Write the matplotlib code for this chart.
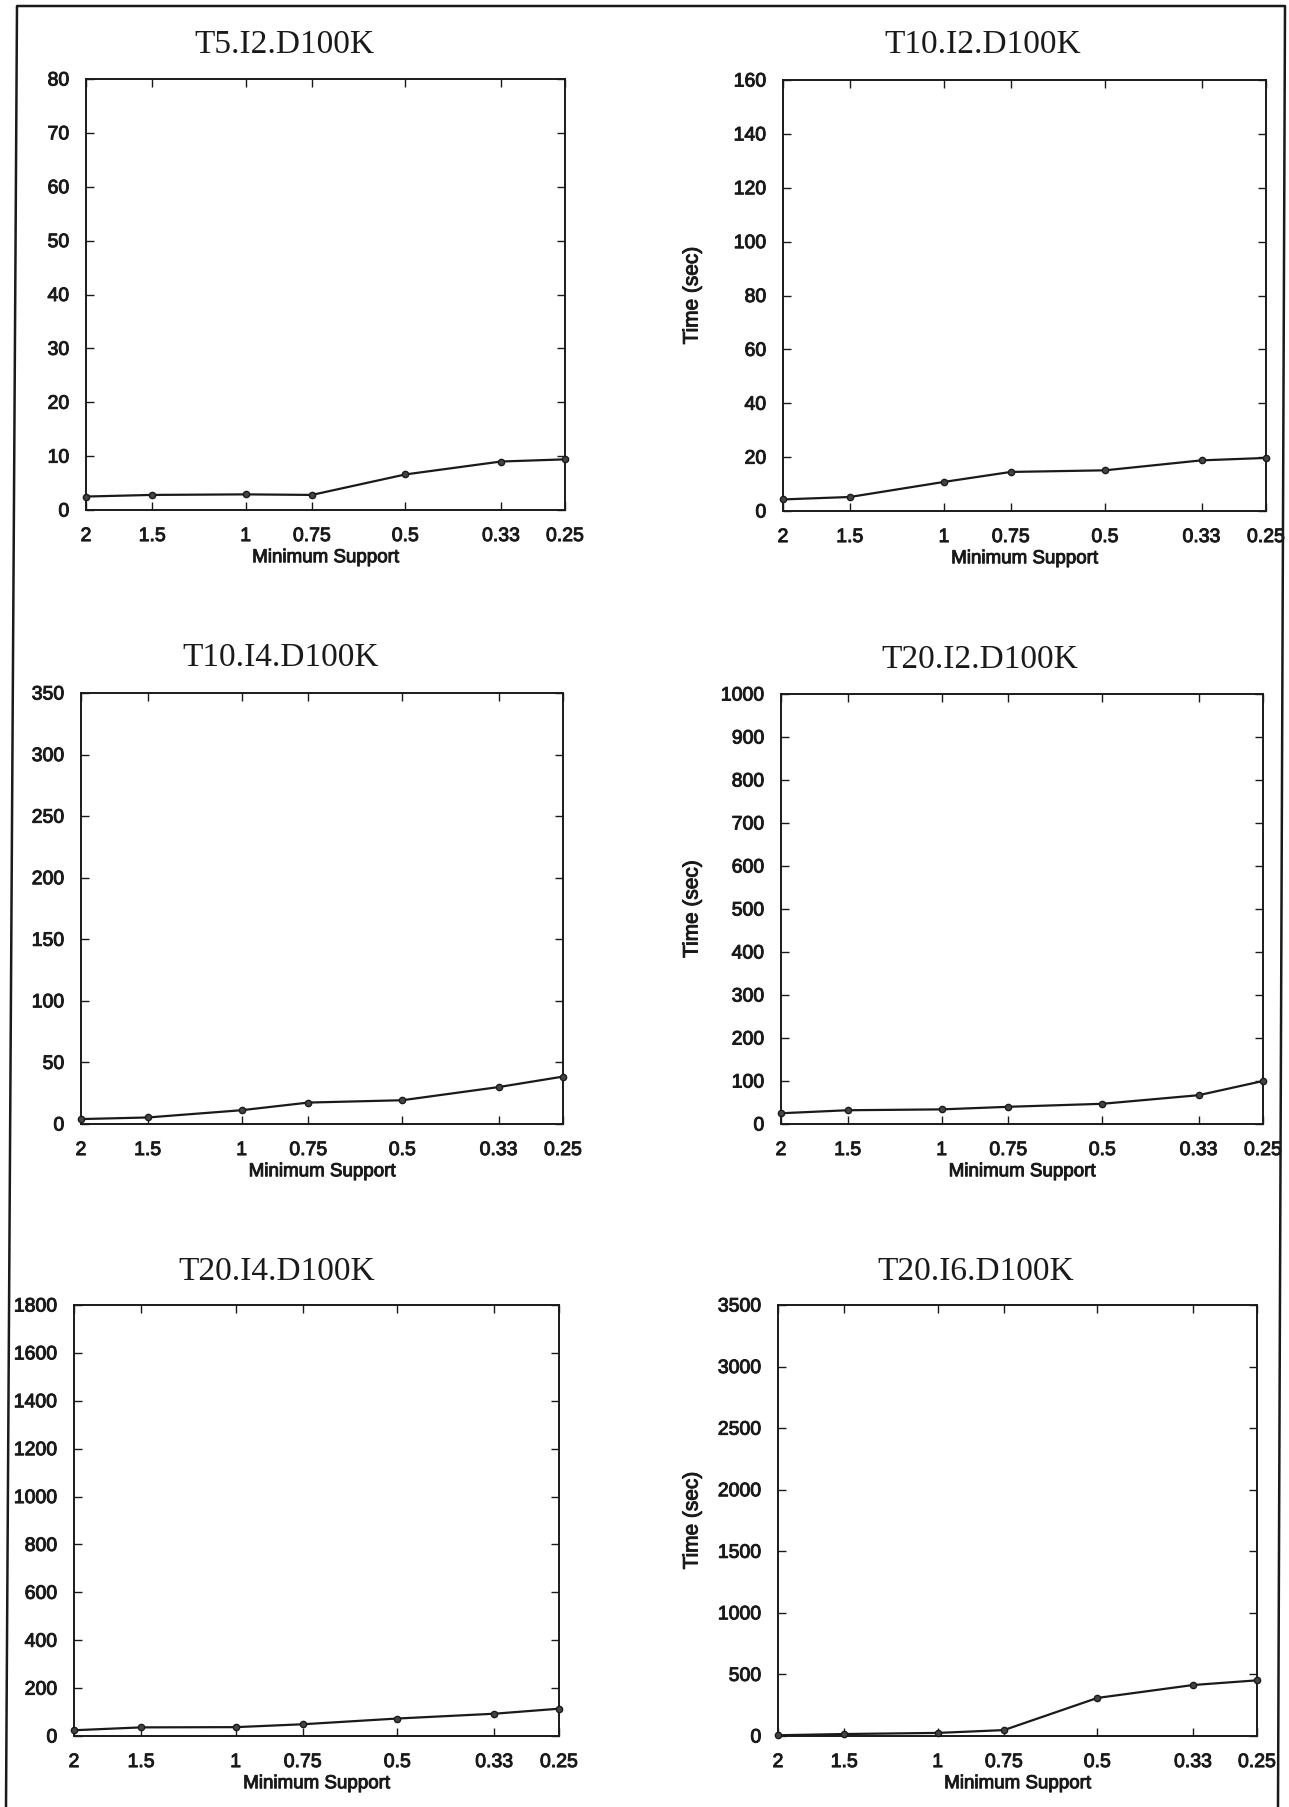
import matplotlib
matplotlib.use("Agg")
import matplotlib.pyplot as plt
import matplotlib.patheffects as pe
from matplotlib.lines import Line2D
from matplotlib.ticker import FixedLocator, FixedFormatter, NullLocator

# ======== DATA ========
supports = [2, 1.5, 1, 0.75, 0.5, 0.33, 0.25]
support_labels = ["2", "1.5", "1", "0.75", "0.5", "0.33", "0.25"]

titles = ["T5.I2.D100K", "T10.I2.D100K", "T10.I4.D100K",
          "T20.I2.D100K", "T20.I4.D100K", "T20.I6.D100K"]

t5_i2 = [2.5, 2.8, 2.9, 2.8, 6.6, 9.0, 9.4]
t10_i2 = [4.3, 5.2, 10.8, 14.5, 15.1, 18.8, 19.7]
t10_i4 = [4.0, 5.3, 11.2, 17.4, 19.3, 30.0, 38.5]
t20_i2 = [25, 32, 34, 40, 47, 67, 100]
t20_i4 = [24, 36, 37, 49, 73, 93, 114]
t20_i6 = [6, 16, 25, 48, 309, 414, 452]

y_max = [80, 160, 350, 1000, 1800, 3500]
y_step = [10, 20, 50, 100, 200, 500]

series = [t5_i2, t10_i2, t10_i4, t20_i2, t20_i4, t20_i6]

# ======== LAYOUT (pixel boxes: left, top, right, bottom) ========
W, H = 1289, 1807
boxes = [
    (86, 79, 565, 510), (783, 80, 1266, 511),
    (81, 693, 563, 1124), (781, 694, 1263, 1124),
    (74, 1305, 559, 1736), (778, 1305, 1257, 1736),
]
title_pos = [(284, 45), (983, 45), (281, 658), (980, 660), (277, 1272), (976, 1272)]
ylabel_x = 692

INK = "#1a1a1a"
SANS = ["Liberation Sans", "DejaVu Sans"]
# the scan makes the sans text look heavier than a regular weight
heavy = [pe.withStroke(linewidth=0.7, foreground=INK)]

plt.rcParams["font.family"] = SANS
fig = plt.figure(figsize=(W / 100, H / 100), dpi=100)

for i, (l, t, r, b) in enumerate(boxes):
    ax = fig.add_axes([l / W, 1 - b / H, (r - l) / W, (b - t) / H])
    ax.plot(supports, series[i], color=INK, lw=1.6, marker="o", ms=4.5,
            mfc="#444444", mec=INK, mew=1.0, clip_on=False, zorder=3)

    ax.set_xscale("log", base=2)
    ax.set_xlim(2, 0.25)
    ax.xaxis.set_major_locator(FixedLocator(supports))
    ax.xaxis.set_major_formatter(FixedFormatter(support_labels))
    ax.xaxis.set_minor_locator(NullLocator())

    ax.set_ylim(0, y_max[i])
    ax.set_yticks(range(0, y_max[i] + 1, y_step[i]))

    ax.tick_params(direction="in", length=6, width=1.0, color=INK,
                   top=True, right=True, labelsize=14, labelcolor=INK)
    ax.tick_params(axis="y", pad=12)
    ax.tick_params(axis="x", pad=13)
    for sp in ax.spines.values():
        sp.set_linewidth(1.4)
        sp.set_color(INK)

    xl = ax.set_xlabel("Minimum Support", fontsize=13.5, color=INK, labelpad=3)
    xl.set_path_effects(heavy)
    for lab in ax.get_xticklabels() + ax.get_yticklabels():
        lab.set_path_effects(heavy)

    tx, ty = title_pos[i]
    fig.text(tx / W, 1 - ty / H, titles[i], ha="center", va="center",
             fontsize=24, family=["Liberation Serif", "DejaVu Serif"], color=INK)

    if i % 2 == 1:
        yl = fig.text(ylabel_x / W, 1 - ((t + b) / 2) / H, "Time (sec)",
                      rotation=90, ha="center", va="center", fontsize=15, color=INK)
        yl.set_path_effects(heavy)

# outer frame of the scanned page (slightly skewed, open at the bottom)
frame_x = [6 / W, 17 / W, 1285 / W, 1278 / W]
frame_y = [1 - 1807 / H, 1 - 6 / H, 1 - 6 / H, 1 - 1807 / H]
fig.add_artist(Line2D(frame_x, frame_y, transform=fig.transFigure,
                      color=INK, lw=1.8))

fig.savefig("out.png", dpi=100, facecolor="white")
